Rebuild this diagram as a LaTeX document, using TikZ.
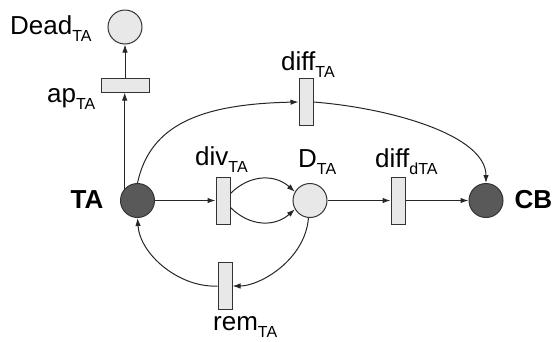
\documentclass[tikz,border=0pt]{standalone}
\usepackage{fontspec}
\setmainfont{Liberation Sans}
\usetikzlibrary{arrows.meta,calc}
\newcommand\sbs[1]{\raisebox{-7pt}{\fontsize{16}{16}\selectfont #1}}
\begin{document}
\begin{tikzpicture}[x=1pt,y=-1pt,
  place/.style={circle,draw=black!80,line width=1pt,fill=black!9,minimum size=34pt,inner sep=0pt},
  dplace/.style={place,fill=black!65},
  vtrans/.style={rectangle,draw=black!80,line width=1pt,fill=black!9,minimum width=14pt,minimum height=47pt,inner sep=0pt},
  htrans/.style={vtrans,minimum width=48pt,minimum height=14pt},
  lbl/.style={font=\fontsize{26}{30}\selectfont,inner sep=0pt,anchor=base west},
  blbl/.style={font=\fontsize{26}{30}\selectfont\bfseries,inner sep=0pt,anchor=base},
  arr/.style={-{Latex[length=8pt,width=5.5pt]},line width=1pt,draw=black!85}]
\useasboundingbox (0,0) rectangle (558,341);
% places
\node[dplace] (TA) at (137.5,200.5) {};
\node[place] (D) at (310,200.5) {};
\node[dplace] (CB) at (486,200.5) {};
\node[place] (Dead) at (125,27) {};
% transitions
\node[htrans] (ap) at (125,85) {};
\node[vtrans] (div) at (223,200.5) {};
\node[vtrans] (dd) at (398,200.5) {};
\node[vtrans] (dT) at (306,102) {};
\node[vtrans] (rem) at (225,286) {};
% arcs
\draw[arr] (TA.137) -- (TA.137 |- ap.south);
\draw[arr] (ap.north) -- (Dead.south);
\draw[arr] (TA.east) -- (div.west);
\draw[arr] ([yshift=7pt]div.east) .. controls (250,174) and (275,174) .. (D.150);
\draw[arr] ([yshift=-7pt]div.east) .. controls (250,227) and (275,227) .. (D.210);
\draw[arr] (D.east) -- (dd.west);
\draw[arr] (dd.east) -- (CB.west);
\draw[arr] (TA.north) .. controls (150,125) and (200,104) .. (dT.west);
\draw[arr] (dT.east) .. controls (390,108) and (486,135) .. (CB.north);
\draw[arr] (D.265) .. controls (305,260) and (260,286) .. (rem.east);
\draw[arr] (rem.west) .. controls (180,288) and (140,255) .. (TA.south);
% labels
\node[lbl] (lDead) at (10,34) {Dead\sbs{TA}};
\node[lbl] (lap) at (47,102) {ap\sbs{TA}};
\node[blbl] (lTA) at (87,208.5) {TA};
\node[blbl] (lCB) at (533.5,208.5) {CB};
\node[lbl] (lrem) at (213,330) {rem\sbs{TA}};
\node[lbl] (ldT) at (281,70) {diff\sbs{TA}};
\node[lbl] (ldiv) at (195,165) {div\sbs{TA}};
\node[lbl] (lD) at (298,167) {D\sbs{TA}};
\node[lbl] (ldd) at (375,167) {diff\sbs{dTA}};
\end{tikzpicture}
\end{document}
